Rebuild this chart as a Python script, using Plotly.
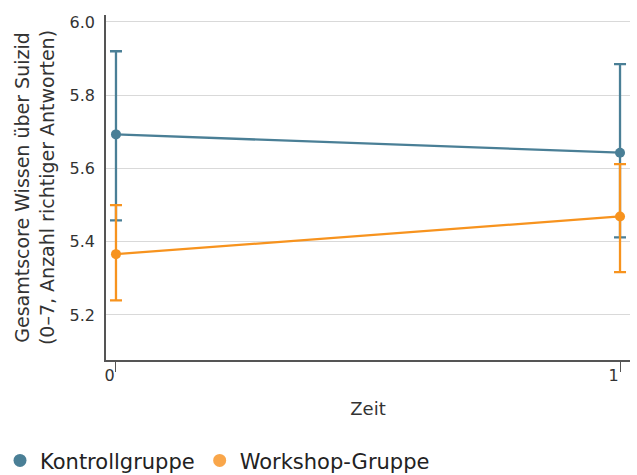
import plotly.graph_objects as go

zeit = [0, 1]
kontroll_mean = [5.693, 5.643]
kontroll_upper = [5.920, 5.885]
kontroll_lower = [5.458, 5.412]
workshop_mean = [5.366, 5.469]
workshop_upper = [5.500, 5.612]
workshop_lower = [5.240, 5.317]

c_k = "#4a7f96"
c_w = "#f7931e"

def errs(mean, up, lo):
    return [u - m for u, m in zip(up, mean)], [m - l for m, l in zip(mean, lo)]

fig = go.Figure()
for name, mean, up, lo, col, lcol in [
    ("Kontrollgruppe", kontroll_mean, kontroll_upper, kontroll_lower, c_k, "#4a7f96"),
    ("Workshop-Gruppe", workshop_mean, workshop_upper, workshop_lower, c_w, "#f9a64a"),
]:
    p, m = errs(mean, up, lo)
    fig.add_trace(go.Scatter(
        x=zeit, y=mean, mode="lines+markers", name=name, showlegend=False,
        line=dict(color=col, width=2.3), marker=dict(color=col, size=10),
        error_y=dict(type="data", symmetric=False, array=p, arrayminus=m,
                     color=col, thickness=2.3, width=6),
    ))
    fig.add_trace(go.Scatter(
        x=[None], y=[None], mode="markers", name=name,
        marker=dict(color=lcol, size=13),
    ))

fig.update_layout(
    width=637, height=475,
    margin=dict(l=106, r=7, t=15, b=115, autoexpand=False),
    plot_bgcolor="white", paper_bgcolor="white",
    font=dict(family="DejaVu Sans", color="#333333", size=16),
    legend=dict(orientation="h", xref="container", yref="container",
                x=-0.007, y=0.03, xanchor="left", yanchor="middle",
                font=dict(size=21, color="#222222"), itemwidth=30,
                tracegroupgap=0),
    xaxis=dict(range=[-0.0198, 1.0198], tickvals=[0, 1], ticktext=["0", "1"],
               showgrid=False, zeroline=False, showline=True,
               linecolor="#555555", linewidth=1.5,
               ticks="outside", ticklen=10, tickcolor="#555555",
               ticklabelposition="outside left",
               tickfont=dict(size=16),
               title=dict(text="Zeit", font=dict(size=18), standoff=18)),
    yaxis=dict(range=[5.077, 6.019], tickvals=[5.2, 5.4, 5.6, 5.8, 6.0],
               ticktext=["5.2", "5.4", "5.6", "5.8", "6.0"],
               showgrid=True, gridcolor="#d9d9d9", gridwidth=1.2,
               zeroline=False, showline=True, linecolor="#555555", linewidth=1.5,
               ticks="", ticklabelstandoff=6, tickfont=dict(size=16),
               title=dict(text="Gesamtscore Wissen über Suizid<br>(0–7, Anzahl richtiger Antworten)",
                          font=dict(size=19), standoff=10)),
)

fig.write_html("out.html", config={"displayModeBar": False},
               post_script="document.body.style.margin='0';")
